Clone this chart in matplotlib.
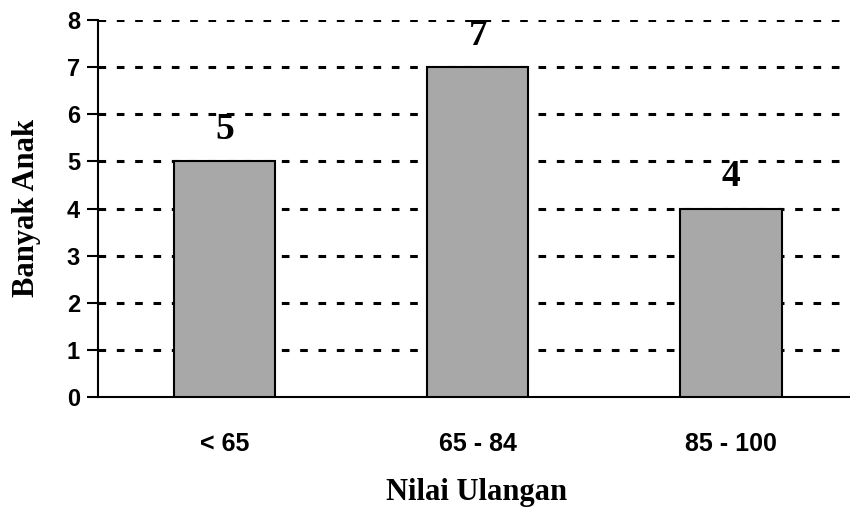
import matplotlib.pyplot as plt

# data
categories = ['< 65', '65 - 84', '85 - 100']
counts = [5, 7, 4]
yticks = [0, 1, 2, 3, 4, 5, 6, 7, 8]

fig = plt.figure(figsize=(8.5, 5.08), dpi=100)
ax = fig.add_axes([0.1153, 0.2185, 0.8847, 0.7421])

x = range(len(categories))
ax.bar(x, counts, width=0.4, color='#a8a8a8', edgecolor='black',
       linewidth=1.5, zorder=3)

# value labels above bars
for xi, c in zip(x, counts):
    ax.text(xi, c + 0.68, str(c), ha='center', va='center',
            family='Liberation Serif', fontweight='bold', fontsize=27)

ax.set_xlim(-0.5, 2.47)
ax.set_ylim(0, 8)
ax.set_yticks(yticks)
ax.set_xticks(list(x))
ax.set_xticklabels(categories, family='Liberation Sans',
                   fontweight='bold', fontsize=18)
ax.set_yticklabels([str(t) for t in yticks], family='Liberation Sans',
                   fontweight='bold', fontsize=17)
ax.tick_params(axis='x', length=0, pad=25)
ax.tick_params(axis='y', length=8, width=1.5, pad=5)

for side in ['top', 'right']:
    ax.spines[side].set_visible(False)
ax.spines['left'].set_linewidth(1.5)
ax.spines['bottom'].set_linewidth(1.5)

# dashed horizontal grid
for t in yticks[1:]:
    ax.axhline(t, color='black', linestyle=(0, (2.5, 3.5)), linewidth=2.2,
               zorder=1)

fig.text(0.561, 0.031, 'Nilai Ulangan', ha='center', va='center',
         family='Liberation Serif', fontweight='bold', fontsize=22)
fig.text(0.031, 0.59, 'Banyak Anak', ha='center', va='center',
         rotation=90, family='Liberation Serif', fontweight='bold',
         fontsize=22)

fig.savefig('out.png', dpi=100)
